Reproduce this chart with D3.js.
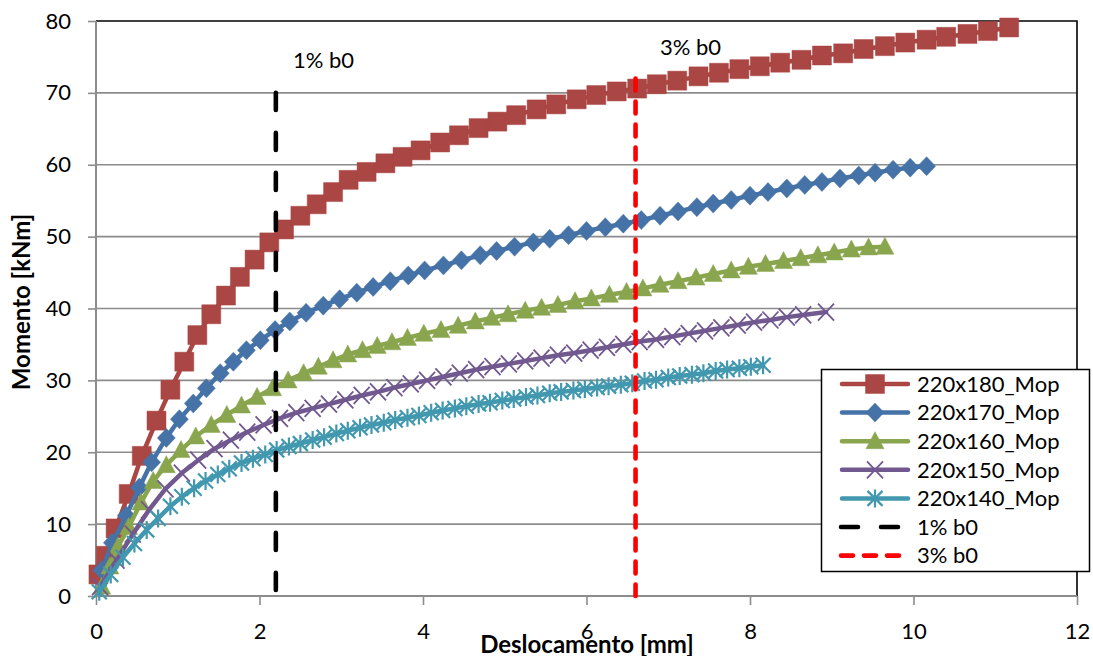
<!DOCTYPE html>
<html><head><meta charset="utf-8">
<script src="https://cdn.jsdelivr.net/npm/d3@7"></script>
<style>body{margin:0;background:#fff}svg{display:block}text{font-family:Lato,"Open Sans",sans-serif;fill:#000}</style>
</head><body><svg id="c" width="1093" height="656"></svg>
<script>
const seriesNames = ["220x180_Mop","220x170_Mop","220x160_Mop","220x150_Mop","220x140_Mop"];
const refNames = ["1% b0","3% b0"];
const xTicks = [0,2,4,6,8,10,12];
const yTicks = [0,10,20,30,40,50,60,70,80];

const x180 = [0.03,0.12,0.24,0.40,0.56,0.74,0.91,1.08,1.24,1.41,1.59,1.76,1.94,2.12,2.30,2.50,2.70,2.90,3.09,3.31,3.54,3.75,3.97,4.21,4.44,4.68,4.91,5.14,5.39,5.63,5.88,6.12,6.37,6.62,6.86,7.11,7.37,7.62,7.87,8.12,8.37,8.63,8.88,9.14,9.39,9.65,9.90,10.16,10.40,10.66,10.91,11.17];
const y180 = [3.0,5.6,9.4,14.2,19.5,24.4,28.7,32.6,36.3,39.2,41.8,44.4,46.8,49.2,51.0,52.9,54.5,56.2,57.9,59.0,60.2,61.1,62.0,63.1,64.1,65.1,66.0,66.9,67.7,68.4,69.1,69.7,70.2,70.6,71.2,71.7,72.3,72.8,73.3,73.7,74.2,74.6,75.2,75.5,76.1,76.5,77.0,77.4,77.8,78.2,78.6,79.1];

const x170 = [0.07,0.20,0.37,0.53,0.68,0.86,1.02,1.19,1.35,1.52,1.68,1.84,2.01,2.19,2.37,2.57,2.78,2.98,3.19,3.39,3.60,3.82,4.02,4.25,4.47,4.70,4.90,5.12,5.35,5.55,5.78,6.00,6.23,6.45,6.67,6.90,7.12,7.35,7.55,7.77,8.00,8.22,8.45,8.67,8.88,9.10,9.33,9.53,9.75,9.96,10.16];
const y170 = [3.6,7.4,11.2,15.1,18.6,22.0,24.6,26.8,28.9,31.0,32.6,34.2,35.6,37.0,38.2,39.4,40.4,41.3,42.2,43.0,43.8,44.6,45.3,46.0,46.7,47.4,48.0,48.6,49.2,49.7,50.2,50.8,51.3,51.8,52.3,52.9,53.5,54.1,54.6,55.1,55.7,56.2,56.7,57.2,57.6,58.1,58.5,58.9,59.3,59.6,59.8];

const x160 = [0.07,0.17,0.27,0.40,0.55,0.70,0.86,1.04,1.22,1.41,1.60,1.78,1.97,2.16,2.35,2.54,2.72,2.90,3.08,3.26,3.44,3.62,3.81,4.01,4.22,4.43,4.64,4.84,5.04,5.25,5.45,5.65,5.86,6.06,6.28,6.49,6.69,6.90,7.12,7.34,7.55,7.77,7.98,8.19,8.41,8.62,8.83,9.03,9.24,9.45,9.65];
const y160 = [1.3,4.1,6.9,9.6,13.0,16.0,18.2,20.3,22.2,23.8,25.2,26.5,27.7,28.9,30.0,31.0,31.9,32.8,33.6,34.2,34.8,35.3,35.9,36.5,37.0,37.6,38.2,38.7,39.2,39.7,40.1,40.5,41.0,41.4,41.9,42.3,42.8,43.3,43.8,44.3,44.8,45.3,45.8,46.2,46.6,47.0,47.4,47.8,48.2,48.5,48.6];

const x150 = [0.05,0.25,0.45,0.65,0.85,1.05,1.25,1.45,1.65,1.85,2.05,2.25,2.45,2.65,2.85,3.05,3.25,3.45,3.65,3.85,4.05,4.25,4.45,4.65,4.85,5.05,5.25,5.45,5.65,5.85,6.05,6.25,6.45,6.65,6.85,7.05,7.25,7.45,7.65,7.85,8.05,8.25,8.45,8.65,8.93];
const y150 = [1.3,5.0,8.6,12.0,14.9,17.1,18.9,20.5,21.7,22.8,23.8,24.7,25.5,26.1,26.7,27.3,27.9,28.4,29.0,29.5,30.0,30.5,31.0,31.5,31.9,32.3,32.7,33.1,33.5,33.8,34.2,34.6,35.0,35.4,35.7,36.1,36.5,36.9,37.3,37.7,38.1,38.4,38.8,39.1,39.5];

const x140 = [0.04,0.18,0.33,0.47,0.62,0.76,0.91,1.05,1.20,1.34,1.49,1.63,1.78,1.92,2.07,2.21,2.36,2.50,2.65,2.79,2.94,3.08,3.23,3.37,3.52,3.66,3.81,3.95,4.10,4.24,4.39,4.53,4.68,4.82,4.97,5.11,5.26,5.40,5.55,5.69,5.84,5.98,6.13,6.27,6.42,6.56,6.71,6.85,7.00,7.14,7.29,7.43,7.58,7.72,7.87,8.01,8.16];
const y140 = [0.6,3.0,5.4,7.3,9.2,10.8,12.5,13.8,15.0,16.0,16.9,17.7,18.5,19.1,19.7,20.3,20.8,21.2,21.7,22.1,22.6,23.0,23.4,23.8,24.1,24.5,24.8,25.1,25.5,25.8,26.1,26.4,26.7,26.9,27.2,27.4,27.7,27.9,28.2,28.4,28.6,28.8,29.0,29.2,29.4,29.6,29.9,30.1,30.4,30.6,30.8,31.0,31.3,31.5,31.7,31.9,32.1];

const refX = [2.2, 6.6];
const refTop = [70, 72];

const colors = ["#AA4643","#4572A7","#89A54E","#71588F","#4198AF"];
const refColors = ["#000000","#FF0000"];
const markerTypes = ["square","diamond","triangle","x","asterisk"];

const seriesX = [x180,x170,x160,x150,x140];
const seriesY = [y180,y170,y160,y150,y140];
const series = seriesNames.map((n,i)=>({name:n, color:colors[i], marker:markerTypes[i],
  pts: seriesX[i].map((v,j)=>[v, seriesY[i][j]])}));

const svg = d3.select("#c");
const x = d3.scaleLinear().domain([0,12]).range([96,1077]);
const y = d3.scaleLinear().domain([0,80]).range([596,21]);

function markerPath(type){
  switch(type){
    case "square": return "M-9.5,-9.5H9.5V9.5H-9.5Z";
    case "diamond": return "M0,-9.5L9,0L0,9.5L-9,0Z";
    case "triangle": return "M0,-9.5L9,7.5L-9,7.5Z";
    case "x": return "M-8,-8.5L8,8.5M-8,8.5L8,-8.5";
    case "asterisk": return "M-7.5,-7.5L7.5,7.5M-7.5,7.5L7.5,-7.5M0,-9V9";
  }
}
function styleMarker(sel, s){
  if(s.marker==="x"||s.marker==="asterisk"){
    sel.attr("fill","none").attr("stroke",s.color).attr("stroke-width",s.marker==="x"?1.8:2.2);
  } else {
    sel.attr("fill",s.color).attr("stroke",s.color).attr("stroke-width",0.8).attr("stroke-opacity",0.6);
  }
}

// gridlines
svg.append("g").selectAll("line").data(yTicks.filter(t=>t>0&&t<80)).join("line")
  .attr("x1",x(0)).attr("x2",x(12)).attr("y1",d=>y(d)).attr("y2",d=>y(d))
  .attr("stroke","#8C8C8C").attr("stroke-width",1.6);
// plot border (top/right)
svg.append("path").attr("d",`M${x(0)},${y(80)}H${x(12)}V${y(0)}`)
  .attr("fill","none").attr("stroke","#000").attr("stroke-width",1.6);

// axes
const yAxis = svg.append("g").attr("transform",`translate(${x(0)},0)`)
  .call(d3.axisLeft(y).tickValues(yTicks).tickSize(8).tickPadding(17).tickSizeOuter(0));
const xAxis = svg.append("g").attr("transform",`translate(0,${y(0)})`)
  .call(d3.axisBottom(x).tickValues(xTicks).tickSize(9).tickPadding(18).tickSizeOuter(0));
[yAxis,xAxis].forEach(a=>{
  a.select(".domain").attr("stroke","#8C8C8C").attr("stroke-width",2);
  a.selectAll(".tick line").attr("stroke","#8C8C8C").attr("stroke-width",1.6);
  a.selectAll(".tick text").attr("font-size",22).attr("font-family","Lato").attr("fill","#000");
});
xAxis.select(".domain").attr("d",`M${x(0)},0H${x(12)}`);
yAxis.select(".domain").attr("d",`M0,${y(0)}V${y(80)}`);

// series
const line = d3.line().x(d=>x(d[0])).y(d=>y(d[1]));
series.forEach(s=>{
  const g = svg.append("g");
  g.append("path").attr("d",line(s.pts)).attr("fill","none").attr("stroke",s.color)
    .attr("stroke-width",4.5).attr("stroke-linejoin","round").attr("stroke-linecap","round");
  g.selectAll("path.m").data(s.pts).join("path").attr("class","m")
    .attr("transform",d=>`translate(${x(d[0])},${y(d[1])})`).attr("d",markerPath(s.marker))
    .call(styleMarker, s);
});

// reference lines
const refDash = ["17,23","12,11"];
refX.forEach((rx,i)=>{
  svg.append("line").attr("x1",x(rx)).attr("x2",x(rx)).attr("y1",y(refTop[i])).attr("y2",y(0))
    .attr("stroke",refColors[i]).attr("stroke-width",4.6).attr("stroke-dasharray",refDash[i])
    .attr("stroke-linecap","round");
});
// labels
svg.append("text").attr("x",293).attr("y",68).attr("font-size",22).text(refNames[0]);
svg.append("text").attr("x",660).attr("y",55).attr("font-size",22).text(refNames[1]);

// axis titles
svg.append("text").attr("x",587).attr("y",653).attr("text-anchor","middle")
  .attr("font-size",24).attr("font-weight","bold").text("Deslocamento [mm]");
svg.append("text").attr("transform","translate(30,302) rotate(-90)").attr("text-anchor","middle")
  .attr("font-size",24).attr("font-weight","bold").text("Momento [kNm]");

// legend
const lg = svg.append("g");
lg.append("rect").attr("x",821.5).attr("y",369.5).attr("width",268).attr("height",202)
  .attr("fill","#fff").attr("stroke","#000").attr("stroke-width",1.5);
const rowY = i => 384 + i*28.6;
series.forEach((s,i)=>{
  const ry = rowY(i);
  lg.append("line").attr("x1",842).attr("x2",908).attr("y1",ry).attr("y2",ry)
    .attr("stroke",s.color).attr("stroke-width",4.5).attr("stroke-linecap","round");
  lg.append("path").attr("transform",`translate(875,${ry})`).attr("d",markerPath(s.marker)).call(styleMarker,s);
  lg.append("text").attr("x",917).attr("y",ry).attr("dy","0.35em").attr("font-size",22).text(s.name);
});
refNames.forEach((n,i)=>{
  const ry = rowY(5+i);
  lg.append("line").attr("x1",841).attr("x2",900).attr("y1",ry).attr("y2",ry)
    .attr("stroke",refColors[i]).attr("stroke-width",4.6).attr("stroke-dasharray",refDash[i])
    .attr("stroke-linecap","round");
  lg.append("text").attr("x",917).attr("y",ry).attr("dy","0.35em").attr("font-size",22).text(n);
});
</script></body></html>
